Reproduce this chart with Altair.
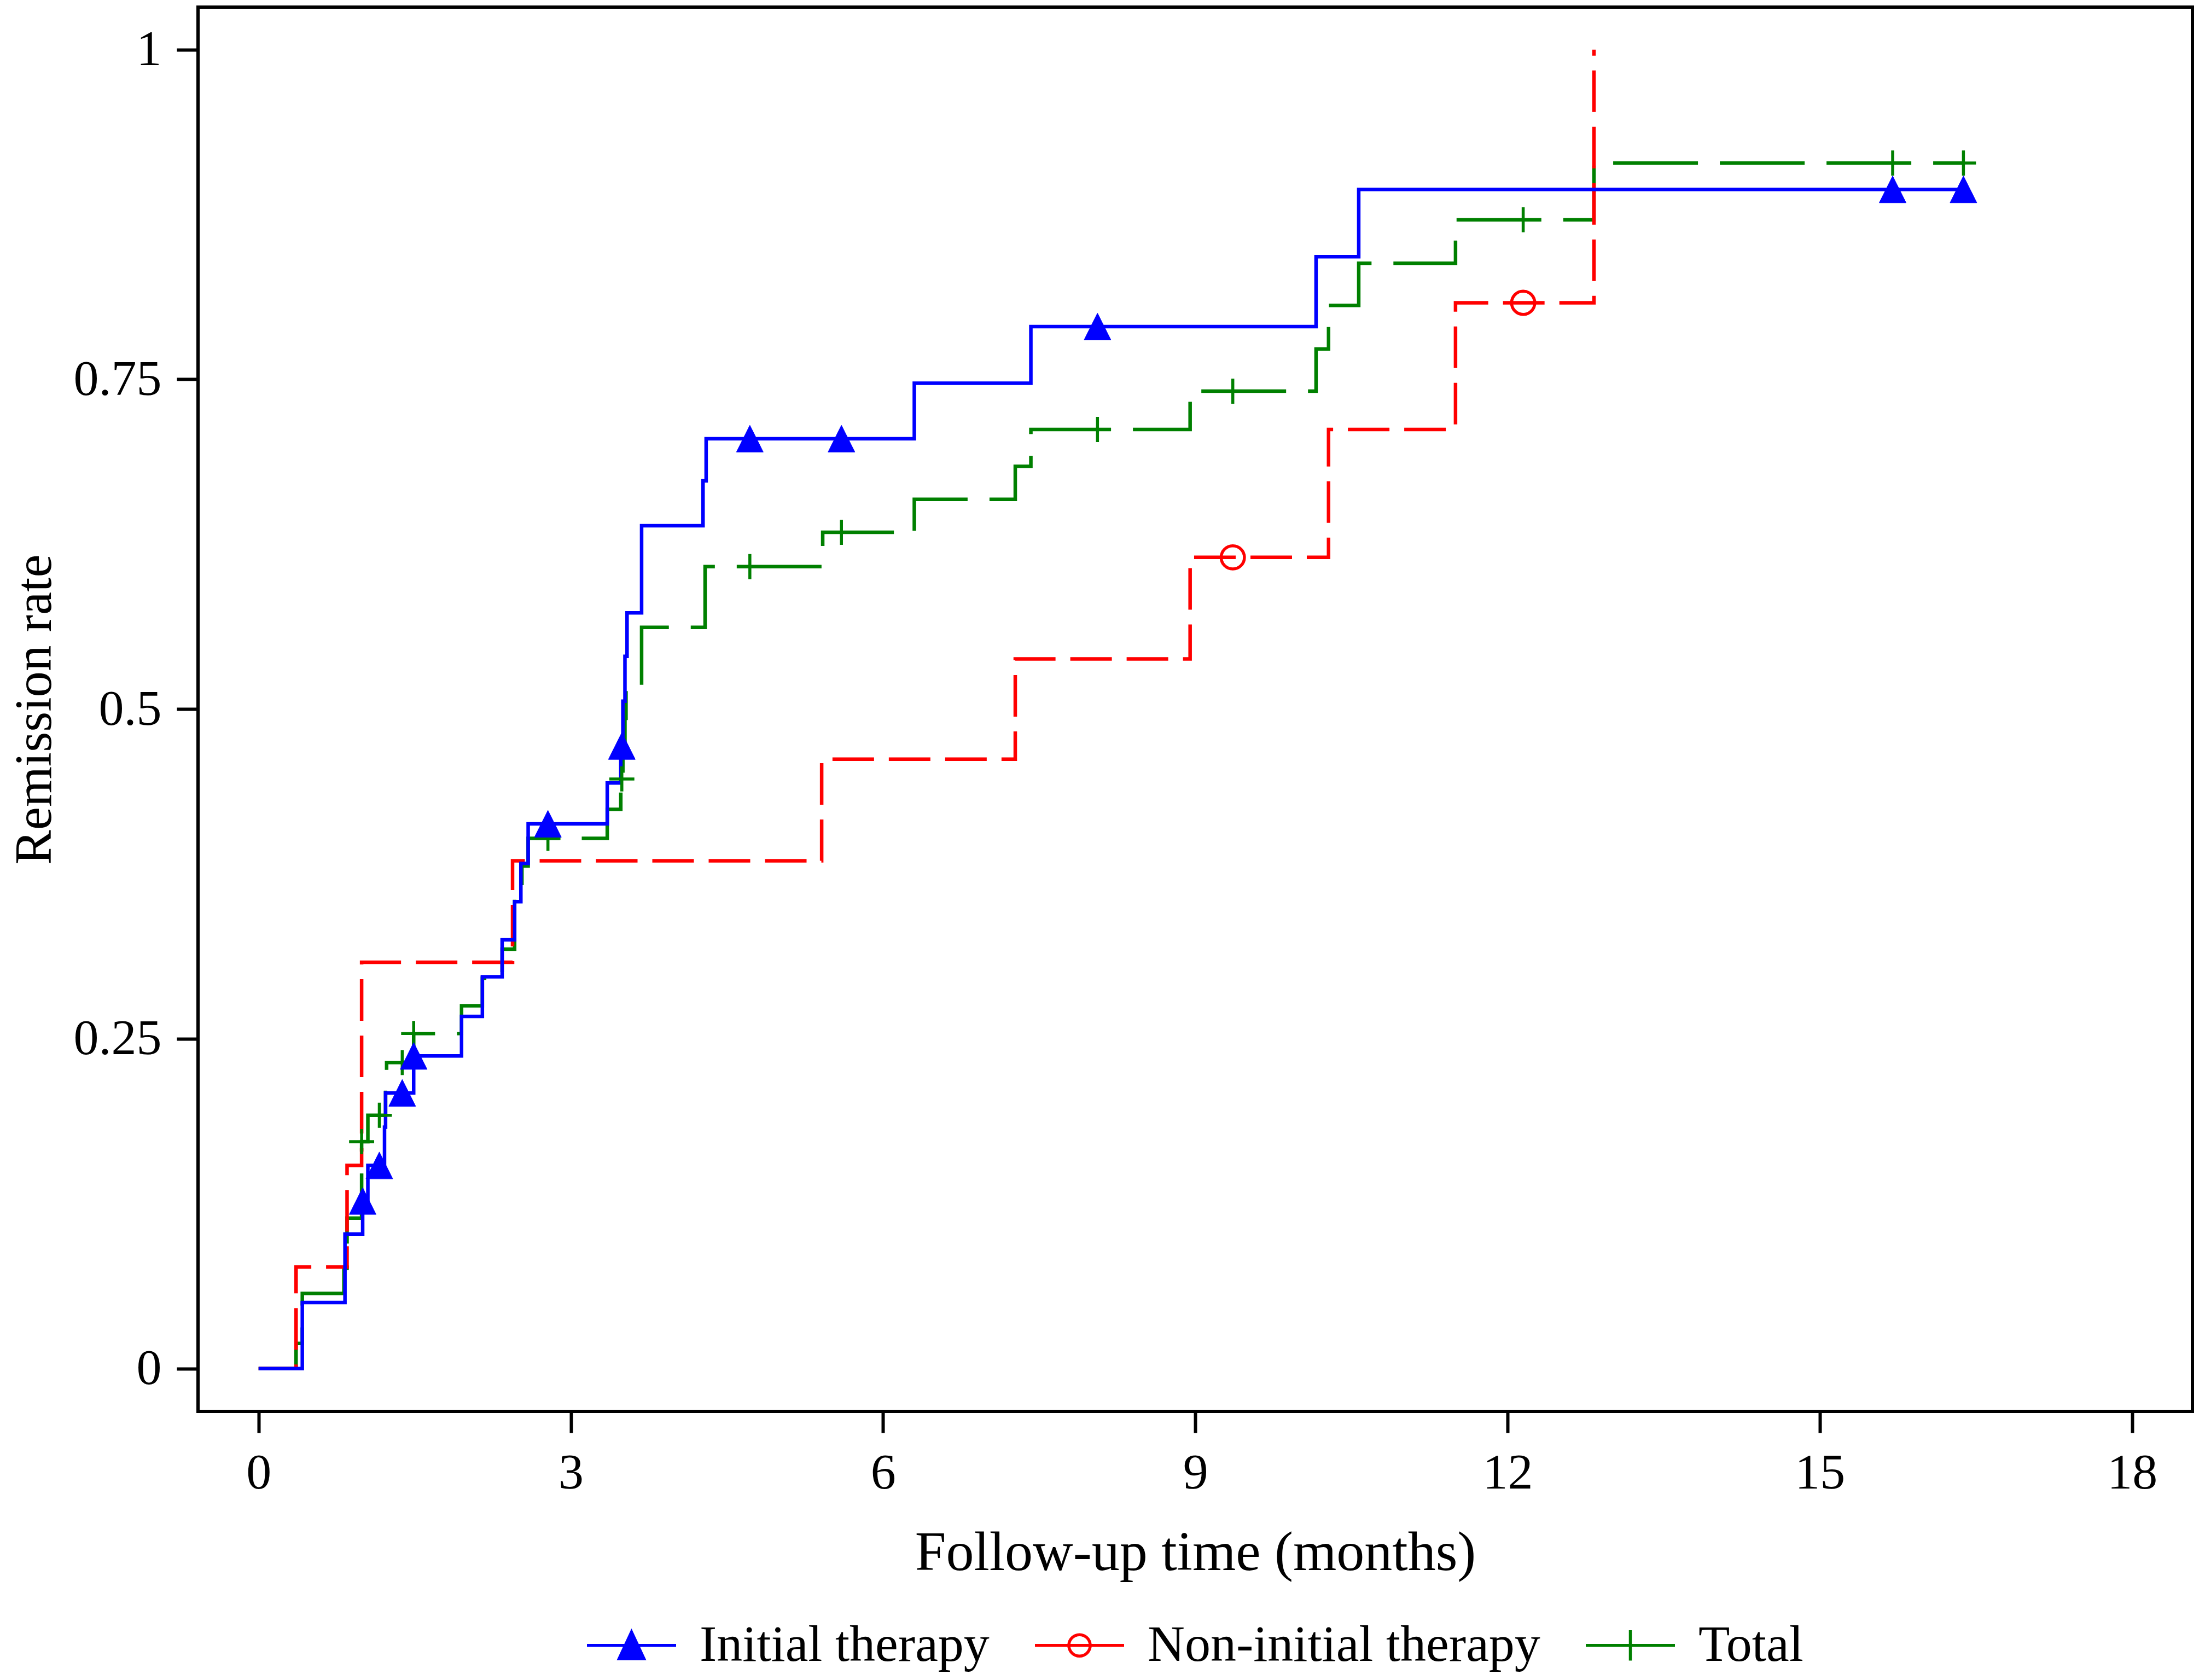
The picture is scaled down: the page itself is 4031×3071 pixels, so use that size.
import altair as alt
import pandas as pd

# ---------------- data ----------------
SERIES = ["Initial therapy", "Non-initial therapy", "Total"]
COLORS = ["#0000FF", "#FF0000", "#008000"]

# Initial therapy (Kaplan-Meier step points)
init_t = [0, 0.42, 0.83, 1.00, 1.05, 1.21, 1.22, 1.49, 1.95, 2.15, 2.34, 2.46, 2.52,
          2.59, 3.35, 3.48, 3.50, 3.52, 3.54, 3.68, 4.27, 4.30, 6.30, 7.42, 10.16,
          10.57, 16.38]
init_r = [0, 0.050, 0.102, 0.127, 0.154, 0.183, 0.209, 0.237, 0.267, 0.297, 0.325,
          0.354, 0.383, 0.413, 0.444, 0.472, 0.506, 0.540, 0.573, 0.639, 0.673,
          0.705, 0.747, 0.790, 0.843, 0.894, 0.894]
init_cens_t = [1.00, 1.16, 1.38, 1.49, 2.78, 3.49, 4.72, 5.60, 8.06, 15.70, 16.38]
init_cens_r = [0.127, 0.154, 0.209, 0.237, 0.413, 0.472, 0.705, 0.705, 0.790, 0.894, 0.894]

# Non-initial therapy
non_t = [0, 0.36, 0.85, 0.99, 2.44, 5.41, 7.27, 8.95, 10.28, 11.50, 12.83]
non_r = [0, 0.077, 0.154, 0.308, 0.385, 0.462, 0.538, 0.615, 0.712, 0.808, 1.0]
non_cens_t = [9.36, 12.15]
non_cens_r = [0.615, 0.808]

# Total
tot_t = [0, 0.36, 0.42, 0.82, 0.85, 0.99, 1.05, 1.22, 1.23, 1.49, 1.95, 2.15, 2.34,
         2.46, 2.53, 2.59, 3.35, 3.48, 3.50, 3.52, 3.53, 3.68, 4.29, 5.42, 6.30,
         7.27, 7.42, 8.95, 10.16, 10.28, 10.57, 11.50, 12.83, 16.38]
tot_r = [0, 0.019, 0.057, 0.076, 0.114, 0.172, 0.192, 0.212, 0.232, 0.254, 0.275,
         0.296, 0.318, 0.360, 0.381, 0.402, 0.424, 0.447, 0.470, 0.493, 0.517,
         0.562, 0.608, 0.634, 0.659, 0.684, 0.712, 0.741, 0.773, 0.806, 0.838,
         0.871, 0.914, 0.914]
tot_cens_t = [0.99, 1.16, 1.38, 1.49, 2.78, 3.49, 4.72, 5.60, 8.06, 9.36, 12.15, 15.70, 16.38]
tot_cens_r = [0.172, 0.192, 0.232, 0.254, 0.402, 0.447, 0.608, 0.634, 0.712, 0.741, 0.871, 0.914, 0.914]

X_TICKS = [0, 3, 6, 9, 12, 15, 18]
Y_TICKS = [0, 0.25, 0.5, 0.75, 1]

FONT = "Liberation Serif"

# ---------------- chart ----------------
def frame(t, r):
    return pd.DataFrame({"time": t, "rate": r})

x_enc = alt.X(
    "time:Q",
    scale=alt.Scale(domain=[-0.582, 18.58], nice=False, zero=False),
    axis=alt.Axis(values=X_TICKS, format="d", title="Follow-up time (months)",
                  titlePadding=50, titleFontSize=102, labelPadding=28),
)
y_enc = alt.Y(
    "rate:Q",
    scale=alt.Scale(domain=[-0.0325, 1.0322], nice=False, zero=False),
    axis=alt.Axis(values=Y_TICKS, format=".2~f", title="Remission rate", titlePadding=50,
                  titleFontSize=95, labelPadding=28),
)

LW = 6.5


def steps(t, r, color, dash=None):
    kw = dict(interpolate="step-after", color=color, strokeWidth=LW, clip=True)
    if dash is not None:
        kw["strokeDash"] = dash
    return alt.Chart(frame(t, r)).mark_line(**kw).encode(x=x_enc, y=y_enc)


line_tot = steps(tot_t, tot_r, COLORS[2], [155, 40])
line_non = steps(non_t, non_r, COLORS[1], [76, 27])
line_init = steps(init_t, init_r, COLORS[0])

TRI = "M0,-1L1,1L-1,1Z"
PLUS = "M-1,0L1,0M0,-1L0,1"

m_init = alt.Chart(frame(init_cens_t, init_cens_r)).mark_point(
    shape=TRI, filled=True, fill=COLORS[0], stroke=COLORS[0], strokeWidth=1,
    size=2400, opacity=1).encode(x=x_enc, y=y_enc)
m_non = alt.Chart(frame(non_cens_t, non_cens_r)).mark_point(
    shape="circle", filled=False, stroke=COLORS[1], strokeWidth=5.5,
    size=1800, opacity=1).encode(x=x_enc, y=y_enc)
m_tot = alt.Chart(frame(tot_cens_t, tot_cens_r)).mark_point(
    shape=PLUS, filled=False, stroke=COLORS[2], strokeWidth=5.5,
    size=2100, opacity=1).encode(x=x_enc, y=y_enc)

# legend: symbols combine the line and the censoring marker
LEG_PATHS = [
    "M-1,0L1,0M0,-0.3L0.28,0.3L-0.28,0.3Z",
    "M-1,0L1,0M-0.24,0A0.24,0.24 0 1,0 0.24,0A0.24,0.24 0 1,0 -0.24,0",
    "M-1,0L1,0M0,-0.34L0,0.34",
]
LEG_FILLS = [COLORS[0], "transparent", COLORS[2]]
LEG_SIZE = 26569

leg = alt.Legend(
    title=None, orient="none", legendX=708, legendY=2910, direction="horizontal",
    symbolSize=LEG_SIZE, symbolStrokeWidth=5.5, symbolOpacity=1,
    labelFont=FONT, labelFontSize=94, labelColor="black", labelOffset=40,
    columnPadding=72, padding=0, labelLimit=0,
)
legend_df = pd.DataFrame({"group": SERIES})
legend_layer = alt.Chart(legend_df).mark_point(opacity=0, size=LEG_SIZE).encode(
    shape=alt.Shape("group:N", scale=alt.Scale(domain=SERIES, range=LEG_PATHS), legend=leg),
    fill=alt.Fill("group:N", scale=alt.Scale(domain=SERIES, range=LEG_FILLS), legend=leg),
    stroke=alt.Stroke("group:N", scale=alt.Scale(domain=SERIES, range=COLORS), legend=leg),
)

chart = alt.layer(
    line_tot, line_non, line_init, m_tot, m_non, m_init, legend_layer
).properties(
    width=3646, height=2567,
    autosize=alt.AutoSizeParams(type="none"),
    padding={"left": 354, "top": 5, "right": 15, "bottom": 483},
    background="white",
).configure_view(
    stroke="black", strokeWidth=6,
).configure_axis(
    domain=False, grid=False, ticks=True, tickSize=39, tickWidth=6, tickColor="black",
    labelFont=FONT, labelFontSize=92, labelColor="black", labelFlush=False,
    titleFont=FONT, titleFontWeight="normal", titleColor="black",
)

chart.save("out.html", embed_options={"renderer": "svg", "actions": False})
